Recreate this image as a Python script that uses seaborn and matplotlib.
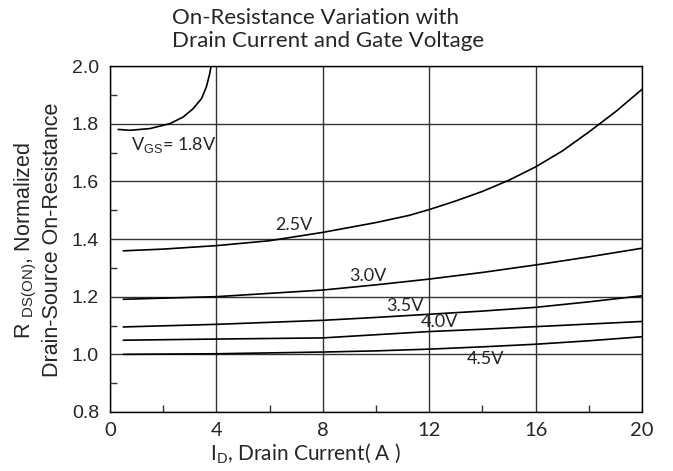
import numpy as np
import pandas as pd
import matplotlib
matplotlib.use("Agg")
import matplotlib.pyplot as plt
import seaborn as sns
from matplotlib.ticker import MultipleLocator

# curves (I_D in A, normalized R_DS(on))
x_18 = [0.31, 0.75, 1.5, 2.25, 2.75, 3.125, 3.44, 3.625, 3.75, 3.8]
y_18 = [1.780, 1.777, 1.783, 1.800, 1.823, 1.852, 1.887, 1.928, 1.974, 2.0]

x_25 = [0.5, 2, 4, 6, 8, 10, 11.25, 12, 13, 14, 15, 16, 17, 18, 19, 20]
y_25 = [1.359, 1.365, 1.377, 1.394, 1.423, 1.457, 1.482, 1.502, 1.532, 1.565,
        1.604, 1.650, 1.705, 1.771, 1.841, 1.919]

x_std = [0.5, 4, 8, 10, 12, 14, 16, 18, 20]
y_30 = [1.191, 1.200, 1.223, 1.241, 1.261, 1.284, 1.310, 1.338, 1.368]
y_35 = [1.095, 1.104, 1.118, 1.128, 1.139, 1.150, 1.163, 1.182, 1.203]
y_40 = [1.049, 1.053, 1.057, 1.068, 1.079, 1.087, 1.096, 1.105, 1.114]
y_45 = [1.000, 1.002, 1.008, 1.012, 1.018, 1.026, 1.035, 1.047, 1.061]

curve_names = ["1.8V", "2.5V", "3.0V", "3.5V", "4.0V", "4.5V"]
label_text = [r"V$_{\rm GS}$= 1.8V", "2.5V", "3.0V", "3.5V", "4.0V", "4.5V"]
label_x = [0.8, 6.2, 9.0, 10.4, 11.7, 13.4]
label_y = [1.726, 1.448, 1.272, 1.168, 1.113, 0.984]

x_ticks = [0, 4, 8, 12, 16, 20]
y_ticks = [0.8, 1.0, 1.2, 1.4, 1.6, 1.8, 2.0]

frames = [pd.DataFrame({"Id": x_18, "R": y_18, "Vgs": "1.8V"}),
          pd.DataFrame({"Id": x_25, "R": y_25, "Vgs": "2.5V"})]
for name, ys in zip(curve_names[2:], [y_30, y_35, y_40, y_45]):
    frames.append(pd.DataFrame({"Id": x_std, "R": ys, "Vgs": name}))
df = pd.concat(frames, ignore_index=True)

sns.set_style("white")
plt.rcParams["mathtext.fontset"] = "custom"
plt.rcParams["mathtext.rm"] = "Liberation Sans"

fig = plt.figure(figsize=(6.73, 4.71), dpi=100)
ax = fig.add_axes([110 / 673, 1 - 412 / 471, 532 / 673, 346 / 471])

for name in curve_names:
    sub = df[df["Vgs"] == name]
    sns.lineplot(data=sub, x="Id", y="R", color="black", lw=1.2, ax=ax,
                 estimator=None, sort=False)

ax.set_xlim(0, 20)
ax.set_ylim(0.8, 2.0)
ax.set_xticks(x_ticks)
ax.set_yticks(y_ticks)
ax.xaxis.set_minor_locator(MultipleLocator(2))
ax.yaxis.set_minor_locator(MultipleLocator(0.1))
ax.grid(True, which="major", color="#333333", lw=1)
ax.tick_params(which="major", length=0)
ax.tick_params(axis="x", which="major", pad=7)
ax.tick_params(axis="y", which="major", pad=8)
ax.tick_params(which="minor", direction="in", length=5, width=1, color="#333333",
               left=True, bottom=True)
for s in ax.spines.values():
    s.set_color("black")
    s.set_linewidth(1)

ax.set_xticklabels([str(t) for t in x_ticks], fontsize=14.5, family="Lato")
ax.set_yticklabels([f"{t:.1f}" for t in y_ticks], fontsize=14, family="Liberation Sans")

ax.set_xlabel(r"I$_{\rm D}$, Drain Current( A )", fontsize=15, family="Lato")
ax.xaxis.set_label_coords(0.188, -0.085, transform=ax.transAxes)
ax.xaxis.label.set_horizontalalignment("left")
ax.set_ylabel("")

fig.text(38 / 673, 1 - 240 / 471, "R $_{\\rm DS(ON)}$, Normalized\nDrain-Source On-Resistance",
         fontsize=15.5, family="Liberation Sans", linespacing=1.2,
         rotation=90, ha="center", va="center", multialignment="center")

for t, lx, ly in zip(label_text, label_x, label_y):
    ax.text(lx, ly, t, fontsize=13, family="Lato", va="center", ha="left")

fig.text(172 / 673, 1 - 8 / 471, "On-Resistance Variation with\nDrain Current and Gate Voltage",
         fontsize=16, family="Lato", ha="left", va="top", linespacing=1.2)

fig.savefig("out.png", dpi=100)
